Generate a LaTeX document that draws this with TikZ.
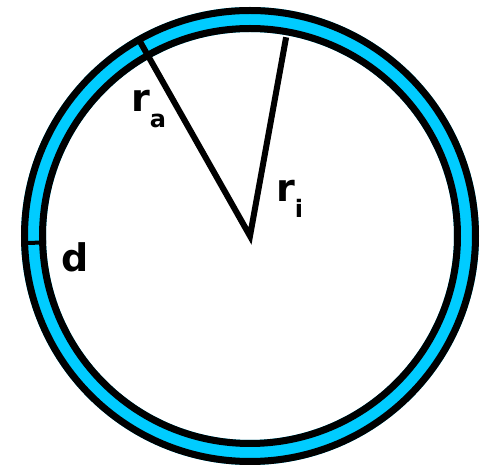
\documentclass[tikz,border=0pt]{standalone}
\usepackage{fontspec}
\setmainfont{DejaVu Sans}
\usetikzlibrary{calc}
\definecolor{ringblue}{RGB}{0,204,255}
\tikzset{
  ring/.style={line width=7pt},
  radius line/.style={line width=6pt},
  lab/.style={font=\fontsize{38}{38}\selectfont\bfseries, inner sep=0pt, anchor=base west}
}
\newcommand{\subtxt}[1]{\raisebox{-0.4em}{\fontsize{24}{24}\selectfont\bfseries #1}}
\begin{document}
\begin{tikzpicture}[x=1pt,y=1pt]

            \useasboundingbox (0,0) rectangle (491,466);

            \coordinate (c) at (250,230);

            \fill[ringblue,even odd rule] (c) circle (229pt) (c) circle (204pt);
            \draw[ring] (c) circle (225.5pt);
            \draw[ring] (c) circle (207.5pt);

            \coordinate (ra end) at ($(c)+(119.5:225pt)$);
            \coordinate (ri end) at ($(c)+(79.7:202pt)$);
            \coordinate (d in) at ($(c)+(181.8:204pt)$);
            \coordinate (d out) at ($(c)+(181.8:229pt)$);

            \draw[radius line] (ra end) -- (c) -- (ri end);
            \draw[line width=4pt] (d in) -- (d out);

            \node[lab] (ra) at (131,354) {r\subtxt{a}};
            \node[lab] (ri) at (276,264) {r\subtxt{i}};
            \node[lab] (d) at (61,194) {d};
        \end{tikzpicture}
\end{document}
